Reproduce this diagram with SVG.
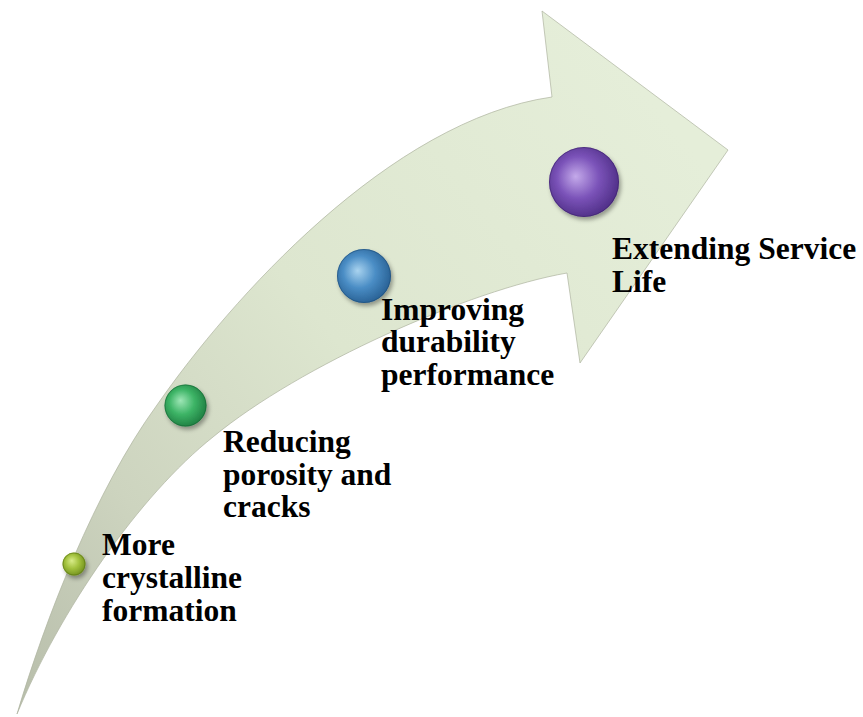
<svg xmlns="http://www.w3.org/2000/svg" width="863" height="717" viewBox="0 0 863 717">
  <style>
    .label { font-family: "Liberation Serif", "Times New Roman", serif; font-weight: bold; font-size: 31.5px; fill: #000; }
    .ball { filter: url(#ballShadow); }
    .rim { fill: none; stroke-width: 1; stroke-opacity: 0.55; }
  </style>
  <defs>
    <linearGradient id="shaftFill" gradientUnits="userSpaceOnUse" x1="17" y1="714" x2="700" y2="160">
      <stop offset="0" stop-color="#b7bdaa"/>
      <stop offset="0.25" stop-color="#cdd4bf"/>
      <stop offset="0.55" stop-color="#dde6cf"/>
      <stop offset="1" stop-color="#e5eed9"/>
    </linearGradient>
    <filter id="ballShadow" x="-40%" y="-40%" width="180%" height="180%">
      <feDropShadow dx="2" dy="3" stdDeviation="2" flood-color="#000" flood-opacity="0.35"/>
    </filter>
    <radialGradient id="gLime" cx="0.45" cy="0.45" r="0.6" fx="0.4" fy="0.35">
      <stop offset="0" stop-color="#d9ec8a"/>
      <stop offset="0.5" stop-color="#a3c23e"/>
      <stop offset="1" stop-color="#6f8d1c"/>
    </radialGradient>
    <radialGradient id="gGreen" cx="0.45" cy="0.45" r="0.6" fx="0.38" fy="0.38">
      <stop offset="0" stop-color="#9ee6b6"/>
      <stop offset="0.5" stop-color="#3db466"/>
      <stop offset="1" stop-color="#1d7a3f"/>
    </radialGradient>
    <radialGradient id="gBlue" cx="0.45" cy="0.45" r="0.6" fx="0.38" fy="0.4">
      <stop offset="0" stop-color="#a9d3ef"/>
      <stop offset="0.5" stop-color="#4a8dc5"/>
      <stop offset="1" stop-color="#255c8f"/>
    </radialGradient>
    <radialGradient id="gPurple" cx="0.45" cy="0.45" r="0.6" fx="0.38" fy="0.42">
      <stop offset="0" stop-color="#c4aaea"/>
      <stop offset="0.5" stop-color="#7b53b9"/>
      <stop offset="1" stop-color="#4b2b82"/>
    </radialGradient>
  </defs>

  <!-- curved progress arrow -->
  <g id="connectors">
    <path d="M17,714 C45,620 95,490 157,405 C230,300 390,120 552,97 L542,11 L728,150 L580,363 L567,273 C470,290 300,365 213,437 C140,495 60,610 17,714 Z"
          fill="url(#shaftFill)" stroke="#aeb4a0" stroke-width="1" stroke-opacity="0.7"/>
  </g>

  <g id="step-crystalline">
    <g class="ball">
      <circle cx="74" cy="564" r="11.5" fill="url(#gLime)"/>
      <circle cx="74" cy="564" r="11" class="rim" stroke="#5a7414"/>
    </g>
    <text class="label" x="102" y="555">More</text>
    <text class="label" x="102" y="588">crystalline</text>
    <text class="label" x="102" y="621">formation</text>
  </g>

  <g id="step-porosity">
    <g class="ball">
      <circle cx="185.5" cy="405.5" r="21" fill="url(#gGreen)"/>
      <circle cx="185.5" cy="405.5" r="20.5" class="rim" stroke="#166232"/>
    </g>
    <text class="label" x="223" y="452">Reducing</text>
    <text class="label" x="223" y="484.5">porosity and</text>
    <text class="label" x="223" y="517">cracks</text>
  </g>

  <g id="step-durability">
    <g class="ball">
      <circle cx="364" cy="276" r="27" fill="url(#gBlue)"/>
      <circle cx="364" cy="276" r="26.5" class="rim" stroke="#1d4a74"/>
    </g>
    <text class="label" x="381" y="320">Improving</text>
    <text class="label" x="381" y="352">durability</text>
    <text class="label" x="381" y="384.5">performance</text>
  </g>

  <g id="step-service-life">
    <g class="ball">
      <circle cx="584" cy="182" r="35" fill="url(#gPurple)"/>
      <circle cx="584" cy="182" r="34.5" class="rim" stroke="#3b2068"/>
    </g>
    <text class="label" x="612" y="259">Extending Service</text>
    <text class="label" x="612" y="291.5">Life</text>
  </g>
</svg>
